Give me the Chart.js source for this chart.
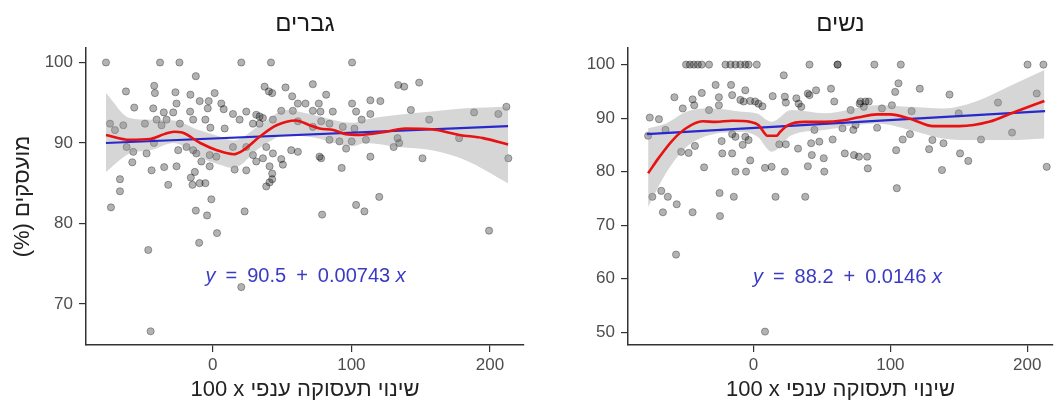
<!DOCTYPE html>
<html lang="he">
<head>
<meta charset="UTF-8">
<title>מועסקים לפי שינוי תעסוקה ענפי</title>
<script src="https://cdnjs.cloudflare.com/ajax/libs/Chart.js/4.4.1/chart.umd.min.js"></script>
<style>
  body { margin: 0; background: #fff; }
  canvas { position: absolute; top: 0; }
</style>
</head>
<body>
<canvas id="men" width="529" height="407" style="left:0" dir="rtl"></canvas>
<canvas id="women" width="529" height="407" style="left:529px" dir="rtl"></canvas>
<script>
// ---- data ----
var xTicks = [0, 100, 200];
var menYTicks = [70, 80, 90, 100];
var womenYTicks = [50, 60, 70, 80, 90, 100];

var menPoints = [
  [-77,100],[-38,100],[-24,100],[20.6,100],[42,100],[100.5,100],
  [-12.2,98.3],[-62.6,96.4],[-42.2,97.1],[-41.7,96.2],[-26.9,96.3],[-16.1,96],[-9.4,95.2],[-2.9,95.2],[1.4,96.2],[6.2,94.9],
  [37.4,97],[40.5,96.4],[42.9,96.2],[52.5,96.9],[57.3,95.8],[61.4,94.9],[66.9,94.9],[72.2,97.3],[76.5,94.9],[81.8,96],[77.7,93.9],
  [-56.6,94.4],[-42.9,94.3],[-35.3,93.8],[-28.5,93.8],[-26.1,94.9],[-16.3,93.9],[-3.6,94.3],[7.9,94.2],[14.6,93.6],[24.2,93.9],
  [31.4,93.5],[33.8,93.3],[49.4,94],[57.8,94],[72.2,94],[86.6,93.9],[100.5,94.9],[103.4,93.9],
  [-74.1,92.4],[-70.5,91.6],[-64.5,92.2],[-48.9,92.4],[-40.5,92.9],[-36.9,92.2],[-33.3,92.9],[-23.7,92.4],[-14.1,92.9],[-5.3,92.9],
  [-1.7,91.9],[8.6,91.8],[19.4,92.9],[29,92.4],[33.8,92.4],[36.2,93.1],[43.4,92.9],[61.4,92.7],[72.2,92],[78.2,92.7],[84.2,92.4],
  [93.8,92],[102.2,91.8],
  [-62.1,89.5],[-57.3,88.9],[-47.7,88.7],[-42.4,90],[-24.9,89.1],[-18.9,89.5],[-14.1,89.1],[-11.8,88.7],[-2.2,88.5],[2.6,88.3],
  [14.6,89.5],[24.2,89.5],[29,88.5],[38.6,89.5],[43.4,88.7],[56.6,89.1],[61.4,88.9],[78.2,88.1],[84.2,90.4],[91.4,90.2],[96.2,89.3],[100.2,90.2],
  [-58,87.6],[-44.1,86.6],[-35,87],[-26.1,87.1],[-12.9,86.4],[-8.2,87.7],[-2.2,87.1],[15.8,86.7],[24.2,86.6],[31.4,87.7],[36.2,88.1],
  [41,87.1],[42.9,86.2],[49.4,88],[50.6,87.3],[77,88.3],[93,86.9],
  [-66.9,85.5],[-66.9,84],[-32.1,84.8],[-15.8,85.7],[-14.6,84.8],[-9.4,85],[-5.3,85],[-1,83],[38.6,84.6],[42.9,85.5],[41,85.1],
  [-73.4,82],[-12.2,81.6],[-4.1,81],[23,81.5],[78.9,81.1],[103.4,82.3],
  [133.8,97.2],[138.1,97],[148.9,97.5],[113.7,95.3],[120.9,95.2],[113.7,93.6],[107.4,92.9],[110.5,90.4],[130.5,89.5],[134.5,90],
  [133.3,90.6],[113.7,88.3],[120.1,83.3],[109.4,81.5],[142.9,94.1],[156.1,92.9],[188.5,93.8],[206,93.6],[211.8,94.5],[177.7,90.6],
  [151.3,88.1],[213.2,88.1],
  [-9.8,77.6],[3.1,78.8],[-46.5,76.7],[20.6,72.1],[-44.8,66.6],[199.3,79.1]
];

var womenPoints = [
  [-49.3,100],[-46.5,100],[-43.6,100],[-40.7,100],[-37.8,100],[-32.5,100],
  [-20.5,100],[-16.8,100],[-13.2,100],[-9.6,100],[-6,100],[-3.6,100],[2.4,100],[40.9,100],[61.4,100],[61.4,100],
  [88.3,100],[107.6,100],[200.2,100],[211.8,100],
  [22.1,98],[-27.7,96.2],[-16.4,96.2],[-57.8,93.9],[-51.7,91.8],[-44.5,93.5],[-43.3,92.4],[-37.8,94.7],[-32.5,91.5],[-25.3,93.9],
  [-25.3,92.4],[-15.6,94.3],[-9.6,93.4],[-6,95.2],[-7.2,93.1],[-2.4,93.2],[1.2,93.1],[3.6,92.7],[6.5,92.2],[14,94.1],[22.9,94],
  [23.6,92.9],[31.3,93.7],[33,92.7],[34.9,92.1],[39.7,94.6],[40.9,94.3],[45.7,95.2],[56.6,95.5],[59,93.1],[71,91.5],
  [-75.8,90.1],[-69.1,89.8],[-64.3,87.8],[-77,86.7],[-52.9,83.7],[-47.4,83.5],[-42.8,84.8],[-36.1,80.8],[-23.3,85.7],[-22.8,83.4],
  [-15.6,83.4],[-15.6,87],[-13.2,86.5],[-7.9,85],[-6,86.5],[-3.6,85.9],[-2.4,82.1],[-13.2,80],[-5.5,80],[8.4,80.7],[13.2,80.9],
  [22.9,80],[18.8,85.1],[23.6,85.1],[32.5,84.3],[39.7,81],[42.1,85.3],[42.6,83.1],[44.5,87.8],[48.1,85.6],[51.3,82.5],[51.7,80],
  [57.8,86],[66.7,83.4],[73.4,83.1],[65,88.1],[74.6,88.7],
  [-73.9,75.3],[-67.4,76.4],[-62.6,75.3],[-56.1,73.9],[-66.2,72.4],[-44.5,72.4],[-24.8,76],[-14.4,75.3],[-24.5,71.7],[16.1,75.3],
  [37.8,75.3],[-56.6,64.5],[8.4,50.1],
  [105.9,96.5],[103.5,94.9],[121.5,95.5],[143.2,94.4],[206.9,94.6],[178.6,92.9],[78.2,93.1],[80.6,92.1],[84.2,93.1],[93.8,91.8],
  [101.1,92.4],[115.5,91.3],[149.9,90.9],[90.3,88.2],[109,86],[114.3,87],[130.7,85.9],[128.3,84.2],[138.8,85.3],[150.9,83.4],
  [156.9,82],[166.2,86],[188.9,87.3],[104.2,84],[83.5,80.6],[137.7,80.3],[104.7,76.9],[214.2,80.9],[77,82.8],[83,82.8],
  [77.6,92.7],[81.8,93.1],[72.9,87.8]
];

// loess curves
var menLoess = [[-77,91],[-60,90.4],[-45,90.5],[-35,91.1],[-28,91.4],[-22,91.3],[-9,90],[3,89.1],[15,88.6],[22,89.1],[34,90.8],
  [46,92.2],[60,92.8],[70,92.2],[77,91.8],[87,91.6],[96,91.1],[106,91],[125,91.4],[139,91.8],[158,91.7],[178,91],[195,90.6],[213,89.8]];
var womenLoess = [[-77,79.7],[-68.6,82.8],[-59,85.9],[-49.3,88.1],[-37.3,89.4],[-27.7,89.3],[-15.6,89.5],[-2.4,89.3],[3.6,88.7],
  [8,87.2],[10,86.7],[17,86.7],[19,87.3],[25.3,88.7],[37.3,89.3],[51.7,89.3],[66.2,89.6],[75.8,90.1],[90.3,90.7],[99.8,90.7],
  [114.3,89.9],[131.2,88.5],[150.4,88.5],[172.1,89.3],[191.3,91.2],[212.5,93.2]];

// confidence band of the loess
var menBandX = [-77,-60,-45,-28,-10,5,15,34,53,72,101,110,134,158,182,213];
var menBandHigh = [96.2,93.1,92.9,92.8,91.6,90.8,90.3,92.2,94.1,93.5,92.5,92.9,93.5,93.9,94.3,94.5];
var menBandLow = [86.4,88.7,89.1,90.0,88.3,87.3,86.9,89.4,91.0,90.7,89.6,90.0,89.5,89.1,87.9,85.0];
var womenBandX = [-77,-64,-49,-32.5,-8.4,3,13.2,27.7,51.7,90.3,114.3,138.4,162.5,186.5,212.5];
var womenBandHigh = [88.1,89,91.2,91.8,91.2,90.8,89.3,91.5,90.9,92.4,92.1,91.8,93.1,95.9,99];
var womenBandLow = [73.4,79.7,84.6,86.8,87.4,86.5,83.7,86.8,87.8,89,87.8,86.2,85.9,85.9,86.2];

// linear fits
var menLine = [[-77,90.0],[213,92.1]];
var womenLine = [[-78,87.0],[213,91.3]];
var menEq = ['90.5', '0.00743'];
var womenEq = ['88.2', '0.0146'];

var FONT = "'Liberation Sans', Arial, 'DejaVu Sans', sans-serif";
// RLI ... PDI keeps the hebrew titles right-to-left whatever the canvas direction
var xTitle = '\u2067שינוי תעסוקה ענפי \u200E100 x\u2069';
var yTitle = '\u2067מועסקים (%)\u2069';

function toXY(arr) { return arr.map(function (p) { return { x: p[0], y: p[1] }; }); }
function zipXY(xs, ys) { return xs.map(function (x, i) { return { x: x, y: ys[i] }; }); }

// panel title + regression equation
var panelText = {
  id: 'panelText',
  afterDatasetsDraw: function (chart, args, opts) {
    var ctx = chart.ctx, a = chart.chartArea;
    ctx.save();
    ctx.direction = 'rtl';
    ctx.textAlign = 'center';
    ctx.textBaseline = 'middle';
    ctx.fillStyle = '#1a1a1a';
    ctx.font = '24px ' + FONT;
    ctx.fillText(opts.title, (a.left + a.right) / 2, 24);

    ctx.direction = 'ltr';
    ctx.textAlign = 'left';
    ctx.fillStyle = '#3a3ac4';
    var parts = [['y', 'italic '], ['\u2002=\u2002' + opts.eq[0] + '\u2002+\u2002' + opts.eq[1] + ' ', ''], ['x', 'italic ']];
    var w = 0;
    parts.forEach(function (p) { ctx.font = p[1] + '20px ' + FONT; w += ctx.measureText(p[0]).width; });
    var cx = chart.scales.x.getPixelForValue(opts.at[0]) - w / 2;
    var cy = chart.scales.y.getPixelForValue(opts.at[1]);
    parts.forEach(function (p) {
      ctx.font = p[1] + '20px ' + FONT;
      ctx.fillText(p[0], cx, cy);
      cx += ctx.measureText(p[0]).width;
    });
    ctx.restore();
  }
};

function makePanel(id, o) {
  var axisGrid = { drawOnChartArea: false, drawTicks: true, tickLength: 7, color: '#333', lineWidth: 1.2 };
  var axisBorder = { display: true, color: '#333', width: 1.5 };
  var tickFont = { size: 17, family: FONT };
  return new Chart(document.getElementById(id), {
    type: 'scatter',
    data: {
      datasets: [
        { type: 'line', data: toXY(o.loess), borderColor: 'rgb(232,18,18)', borderWidth: 2.6, pointRadius: 0,
          cubicInterpolationMode: 'monotone', fill: false, order: 0 },
        { type: 'line', data: toXY(o.line), borderColor: 'rgb(40,40,205)', borderWidth: 2.2, pointRadius: 0,
          fill: false, order: 1 },
        { type: 'line', data: zipXY(o.bandX, o.bandHigh), borderWidth: 0, borderColor: 'rgba(0,0,0,0)', pointRadius: 0,
          cubicInterpolationMode: 'monotone', fill: '+1', backgroundColor: 'rgba(153,153,153,0.4)', order: 2 },
        { type: 'line', data: zipXY(o.bandX, o.bandLow), borderWidth: 0, borderColor: 'rgba(0,0,0,0)', pointRadius: 0,
          cubicInterpolationMode: 'monotone', fill: false, order: 3 },
        { type: 'scatter', data: toXY(o.points), pointRadius: 3.6, borderWidth: 1,
          backgroundColor: 'rgba(0,0,0,0.3)', borderColor: 'rgba(0,0,0,0.32)', order: 4 }
      ]
    },
    options: {
      responsive: false,
      animation: false,
      layout: { padding: { top: 48, right: o.padRight, left: 0, bottom: 0 } },
      plugins: {
        legend: { display: false },
        tooltip: { enabled: false },
        panelText: { title: o.title, eq: o.eq, at: o.eqAt }
      },
      scales: {
        x: {
          type: 'linear', min: o.xMin, max: o.xMax,
          afterBuildTicks: function (s) { s.ticks = xTicks.map(function (v) { return { value: v }; }); },
          afterFit: function (s) { s.height = 62; },
          grid: axisGrid, border: axisBorder,
          ticks: { color: '#4d4d4d', font: tickFont, padding: 3, maxRotation: 0, autoSkip: false },
          title: { display: true, text: xTitle, color: '#222', font: { size: 22, family: FONT },
                   padding: { top: 0, bottom: 4 } }
        },
        y: {
          type: 'linear', min: o.yMin, max: o.yMax,
          afterBuildTicks: function (s) { s.ticks = o.yTicks.map(function (v) { return { value: v }; }); },
          afterFit: function (s) { s.width = o.yWidth; },
          grid: axisGrid, border: axisBorder,
          ticks: { color: '#4d4d4d', font: tickFont, padding: 6, autoSkip: false },
          title: { display: o.showYTitle, text: yTitle, color: '#222', font: { size: 22, family: FONT },
                   padding: { top: 10, bottom: 0 } }
        }
      }
    },
    plugins: [panelText]
  });
}

makePanel('men', {
  title: 'גברים', points: menPoints, loess: menLoess, line: menLine,
  bandX: menBandX, bandHigh: menBandHigh, bandLow: menBandLow,
  eq: menEq, eqAt: [67, 73.4],
  xMin: -91.4, xMax: 224.5, yMin: 64.9, yMax: 101.8, yTicks: menYTicks,
  yWidth: 86, showYTitle: true, padRight: 4
});

makePanel('women', {
  title: 'נשים', points: womenPoints, loess: womenLoess, line: womenLine,
  bandX: womenBandX, bandHigh: womenBandHigh, bandLow: womenBandLow,
  eq: womenEq, eqAt: [68.6, 60.3],
  xMin: -91.7, xMax: 218.8, yMin: 47.6, yMax: 103.1, yTicks: womenYTicks,
  yWidth: 99, showYTitle: false, padRight: 0
});
</script>
</body>
</html>
